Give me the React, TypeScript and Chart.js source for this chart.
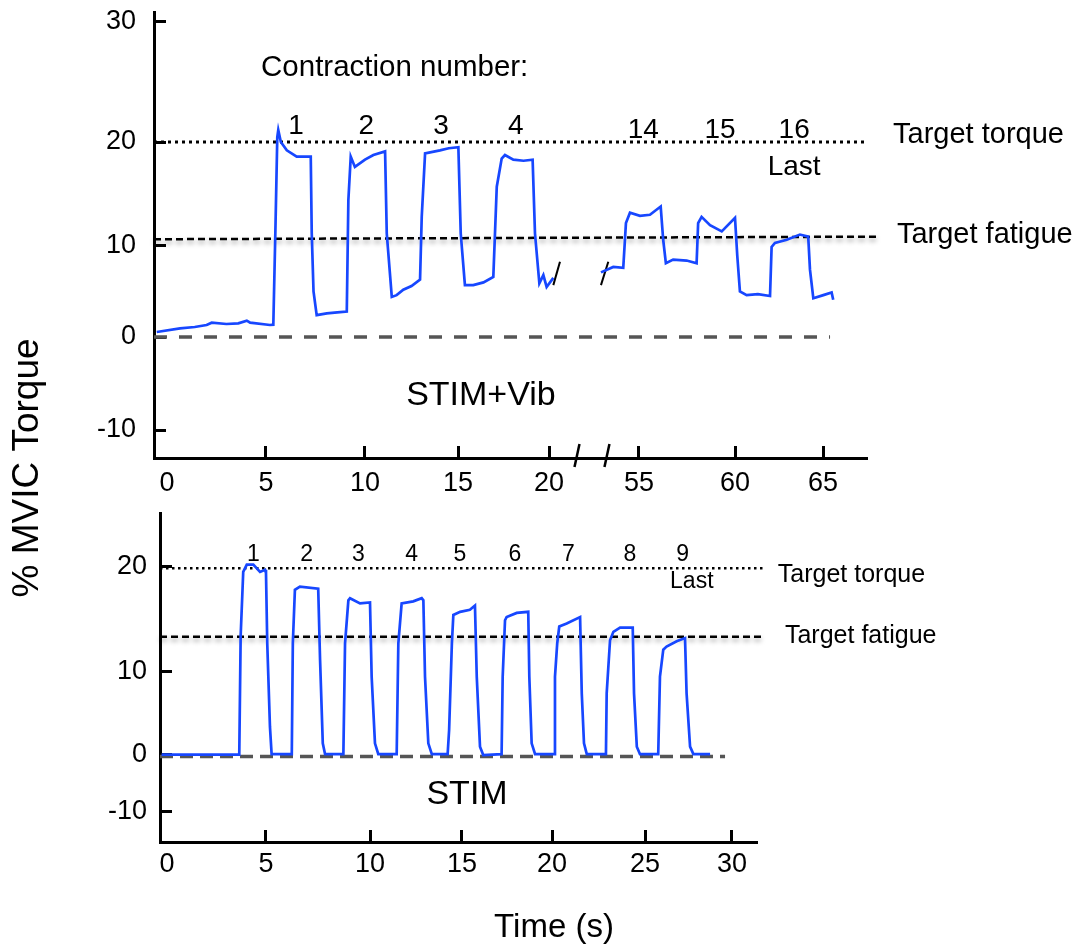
import { useEffect, useRef } from 'react';
import { Chart, registerables, LinearScale } from 'chart.js';

const FONT = "'Liberation Sans', Arial, Helvetica, sans-serif";
const TRACE_BLUE = '#1747ff';

// ---------------- Top panel (STIM+Vib) ----------------
const topTimesA = [-0.52, 0.66, 1.4, 2.0, 2.26, 3.0, 3.6, 4.03, 4.2, 5.2, 5.37, 5.48, 5.57, 5.62, 5.75, 6.05, 6.55, 7.0, 7.26, 7.31, 7.4, 7.56, 8.07, 8.6, 9.08, 9.16, 9.28, 9.49, 10.0, 10.45, 11.08, 11.17, 11.44, 11.7, 12.06, 12.5, 12.96, 13.05, 13.23, 14.03, 14.5, 15.02, 15.15, 15.38, 15.84, 16.4, 16.94, 17.13, 17.4, 17.58, 18.04, 18.6, 19.1, 19.23, 19.47, 19.69, 19.87, 20.24];
const topTorqueA = [0.55, 0.95, 1.1, 1.32, 1.57, 1.43, 1.5, 1.8, 1.57, 1.32, 1.35, 12.0, 20.4, 21.0, 20.0, 19.2, 18.6, 18.6, 18.6, 11.25, 5.0, 2.4, 2.6, 2.7, 2.8, 14.4, 18.6, 17.6, 18.3, 18.75, 19.1, 11.2, 4.4, 4.6, 5.2, 5.6, 6.3, 12.8, 18.9, 19.2, 19.4, 19.5, 11.2, 5.7, 5.7, 6.0, 6.6, 15.7, 18.4, 18.75, 18.3, 18.2, 18.3, 11.2, 5.9, 6.8, 5.5, 6.5];
const topTimesB = [53.02, 53.66, 54.18, 54.32, 54.53, 55.05, 55.57, 56.13, 56.26, 56.4, 56.78, 57.48, 58.0, 58.08, 58.26, 58.7, 59.31, 60.0, 60.13, 60.28, 60.66, 61.3, 61.99, 62.08, 62.27, 62.94, 63.69, 64.16, 64.26, 64.45, 65.02, 65.49, 65.58];
const topTorqueB = [7.1, 7.7, 7.6, 12.2, 13.2, 12.9, 13.0, 13.8, 10.6, 8.1, 8.5, 8.4, 8.1, 12.2, 12.8, 12.0, 11.4, 12.7, 8.9, 5.0, 4.6, 4.7, 4.5, 9.9, 10.3, 10.6, 11.1, 10.9, 7.4, 4.25, 4.6, 4.9, 4.1];
const topBreakSlashTimes = [[20.24, 20.61], [53.02, 53.4]];
const topBreakSlashLevels = [5.7, 8.27];

const topXTicks = [0, 5, 10, 15, 20, 55, 60, 65];
const topYTicks = [-10, 0, 10, 20, 30];
const topXAnchorValues = [-0.66, 0, 5, 10, 15, 20, 21, 52, 55, 60, 65, 67.5];
const topXAnchorFracs = [0, 0.01823, 0.15708, 0.29593, 0.42637, 0.554, 0.57924, 0.59944, 0.68022, 0.81487, 0.93829, 1];
const topYAnchorValues = [-13, -10, 0, 10, 20, 30, 31];
const topYAnchorFracs = [0, 0.06278, 0.2713, 0.47534, 0.70852, 0.97758, 1];

const topTargetTorque = 20;
const topTargetFatigue = [10.65, 10.9];
const topZero = 0;
const topLineStart = -0.66;
const topLineEnds = [67.5, 68.2, 65.4]; // torque, fatigue, zero

const topContractionLabels = ['1', '2', '3', '4', '14', '15', '16'];
const topContractionTimes = [6.52, 10.07, 14.09, 18.18, 55.22, 59.22, 63.36];
const topContractionLevels = [21.28, 21.28, 21.28, 21.28, 21.0, 21.0, 21.0];
const topNoteTexts = ['Contraction number:', 'Last', 'Target torque', 'Target fatigue', 'STIM+Vib'];
const topNoteTimes = [4.75, 63.36, 68.98, 69.2, 16.26];
const topNoteLevels = [26.17, 17.55, 20.58, 11.06, -6.34];

// ---------------- Bottom panel (STIM) ----------------
const bottomTimes = [-0.27, 3.65, 3.72, 3.85, 4.03, 4.36, 4.7, 4.95, 5.0, 5.06, 5.19, 5.27, 6.24, 6.29, 6.39, 6.63, 7.51, 7.6, 7.73, 7.84, 8.72, 8.8, 8.96, 9.04, 9.52, 10.0, 10.09, 10.27, 10.45, 11.45, 11.54, 11.72, 12.35, 12.81, 12.9, 12.99, 13.17, 13.36, 14.22, 14.3, 14.45, 14.53, 14.9, 15.44, 15.72, 15.82, 16.0, 16.18, 17.2, 17.26, 17.39, 17.48, 18.04, 18.68, 18.74, 18.87, 19.06, 20.12, 20.16, 20.28, 20.39, 20.79, 21.51, 21.6, 21.72, 21.87, 22.9, 22.94, 23.12, 23.3, 23.66, 24.34, 24.41, 24.56, 24.73, 25.76, 25.86, 26.05, 26.24, 26.82, 27.3, 27.39, 27.59, 27.78, 28.74];
const bottomTorque = [0.05, 0.05, 13.4, 19.5, 20.2, 20.2, 19.5, 19.7, 19.4, 12.7, 3.4, 0.1, 0.1, 12.7, 17.8, 18.1, 17.9, 11.1, 1.4, 0.1, 0.1, 12.7, 16.8, 17.0, 16.5, 16.6, 9.4, 1.4, 0.1, 0.1, 12.7, 16.5, 16.7, 17.0, 16.8, 9.4, 1.4, 0.1, 0.1, 3.0, 12.7, 15.4, 15.7, 15.9, 16.3, 9.4, 1.0, 0.0, 0.1, 9.4, 14.9, 15.2, 15.6, 15.7, 9.4, 1.4, 0.1, 0.1, 9.4, 12.7, 14.3, 14.6, 15.2, 7.4, 1.4, 0.1, 0.1, 7.4, 13.0, 13.8, 14.2, 14.2, 7.4, 1.0, 0.1, 0.1, 9.4, 12.1, 12.4, 12.9, 13.2, 7.4, 1.0, 0.1, 0.1];

const bottomXTicks = [0, 5, 10, 15, 20, 25, 30];
const bottomYTicks = [-10, 0, 10, 20];
const bottomXAnchorValues = [-0.35, 0, 5, 10, 15, 20, 25, 30, 31.44];
const bottomXAnchorFracs = [0, 0.01173, 0.17755, 0.35176, 0.50586, 0.65662, 0.8124, 0.95812, 1];
const bottomYAnchorValues = [-15.34, -10, 0, 10, 20, 25.1];
const bottomYAnchorFracs = [0, 0.0921, 0.26444, 0.51763, 0.83678, 1];

const bottomTargetTorque = 19.85;
const bottomTargetFatigue = 13.33;
const bottomZero = -0.28;
const bottomLineStart = -0.35;
const bottomLineEnds = [31.9, 31.9, 29.6];

const bottomContractionLabels = ['1', '2', '3', '4', '5', '6', '7', '8', '9'];
const bottomContractionTimes = [4.36, 6.96, 9.44, 12.27, 14.89, 17.94, 20.88, 24.19, 27.17];
const bottomContractionLevel = 21.1;
const bottomNoteTexts = ['Last', 'Target torque', 'Target fatigue', 'STIM'];
const bottomNoteTimes = [27.69, 32.64, 33.05, 15.28];
const bottomNoteLevels = [18.57, 19.2, 13.4, -7.05];

// ---------------- Piecewise-linear scale (hand-drawn, broken axes) ----------------
const ANCHORS: Record<string, { v: number[]; f: number[]; ticks: number[] }> = {
  topX: { v: topXAnchorValues, f: topXAnchorFracs, ticks: topXTicks },
  topY: { v: topYAnchorValues, f: topYAnchorFracs, ticks: topYTicks },
  bottomX: { v: bottomXAnchorValues, f: bottomXAnchorFracs, ticks: bottomXTicks },
  bottomY: { v: bottomYAnchorValues, f: bottomYAnchorFracs, ticks: bottomYTicks },
};

function interp(xs: number[], ys: number[], x: number) {
  const n = xs.length;
  let i = 0;
  if (x >= xs[n - 1]) i = n - 2;
  else if (x > xs[0]) {
    while (i < n - 2 && x > xs[i + 1]) i++;
  }
  const x0 = xs[i];
  const x1 = xs[i + 1];
  if (x1 === x0) return ys[i];
  return ys[i] + ((x - x0) / (x1 - x0)) * (ys[i + 1] - ys[i]);
}

class PiecewiseScale extends LinearScale {
  static id = 'piecewise';
  static defaults = {};
  determineDataLimits() {
    const a = ANCHORS[(this as any).options.anchorKey];
    (this as any).min = a.v[0];
    (this as any).max = a.v[a.v.length - 1];
  }
  buildTicks() {
    const a = ANCHORS[(this as any).options.anchorKey];
    return a.ticks.map((v) => ({ value: v }));
  }
  getPixelForValue(value: any) {
    if (value === null || value === undefined || isNaN(value)) return NaN;
    const a = ANCHORS[(this as any).options.anchorKey];
    return (this as any).getPixelForDecimal(interp(a.v, a.f, value));
  }
  getValueForPixel(pixel: number) {
    const a = ANCHORS[(this as any).options.anchorKey];
    return interp(a.f, a.v, (this as any).getDecimalForPixel(pixel));
  }
}

Chart.register(...registerables, PiecewiseScale as any);
Chart.defaults.font.family = FONT;

function pts(xs: number[], ys: number[]) {
  return xs.map((x, i) => ({ x, y: ys[i] }));
}

function drawText(ctx: CanvasRenderingContext2D, text: string, x: number, y: number, size: number, align: CanvasTextAlign = 'center') {
  ctx.save();
  ctx.font = `${size}px ${FONT}`;
  ctx.fillStyle = '#000';
  ctx.textAlign = align;
  ctx.textBaseline = 'middle';
  ctx.fillText(text, x, y);
  ctx.restore();
}

const shadowPlugin = {
  id: 'lineShadow',
  beforeDatasetDraw(chart: any, args: any) {
    const ds = chart.data.datasets[args.index];
    if (ds.shadow) {
      const ctx = chart.ctx;
      ctx.save();
      ctx.shadowColor = 'rgba(0,0,0,0.4)';
      ctx.shadowBlur = 5;
      ctx.shadowOffsetY = 3;
    }
  },
  afterDatasetDraw(chart: any, args: any) {
    const ds = chart.data.datasets[args.index];
    if (ds.shadow) chart.ctx.restore();
  },
};

function axisScale(key: string, isX: boolean, padding: number, size: number) {
  return {
    type: 'piecewise',
    anchorKey: key,
    position: isX ? 'bottom' : 'left',
    afterFit: (s: any) => {
      if (isX) s.height = 60;
      else s.width = 100;
      s.paddingLeft = 0;
      s.paddingRight = 0;
      s.paddingTop = 0;
      s.paddingBottom = 0;
    },
    border: { display: true, color: '#000', width: 3 },
    grid: {
      display: true,
      drawOnChartArea: false,
      drawTicks: true,
      tickLength: -12,
      tickWidth: 3,
      tickColor: (ctx: any) => (isX && ctx.tick && ctx.tick.value === 0 ? 'rgba(0,0,0,0)' : '#000'),
    },
    ticks: {
      padding,
      color: '#000',
      autoSkip: false,
      maxRotation: 0,
      font: { size, family: FONT },
      callback: (v: any) => String(v),
    },
  };
}

function refLine(x0: number, x1: number, y0: number, y1: number, color: string, width: number, dash: number[], extra: any = {}) {
  return {
    data: [{ x: x0, y: y0 }, { x: x1, y: y1 }],
    borderColor: color,
    borderWidth: width,
    borderDash: dash,
    borderCapStyle: 'butt',
    pointRadius: 0,
    clip: false,
    ...extra,
  };
}

function baseOptions(padding: any, xKey: string, yKey: string, xPad: number, yPad: number) {
  return {
    responsive: false,
    maintainAspectRatio: false,
    animation: false,
    events: [],
    layout: { padding, autoPadding: false },
    plugins: { legend: { display: false }, tooltip: { enabled: false }, title: { display: false } },
    elements: { point: { radius: 0 }, line: { tension: 0 } },
    scales: {
      x: axisScale(xKey, true, xPad, 27),
      y: axisScale(yKey, false, yPad, 27),
    },
  };
}

export default function App() {
  const topRef = useRef<HTMLCanvasElement>(null);
  const bottomRef = useRef<HTMLCanvasElement>(null);

  useEffect(() => {
    const topPlugin = {
      id: 'topNotes',
      afterDraw(chart: any) {
        const ctx = chart.ctx;
        const { x, y } = chart.scales;
        topContractionLabels.forEach((s, i) =>
          drawText(ctx, s, x.getPixelForValue(topContractionTimes[i]), y.getPixelForValue(topContractionLevels[i]), 28)
        );
        const sizes = [29.5, 28, 29, 29, 34];
        const aligns: CanvasTextAlign[] = ['left', 'center', 'left', 'left', 'center'];
        topNoteTexts.forEach((s, i) =>
          drawText(ctx, s, x.getPixelForValue(topNoteTimes[i]), y.getPixelForValue(topNoteLevels[i]), sizes[i], aligns[i])
        );
        // axis break marks on the x axis
        const p20 = x.getPixelForValue(20);
        const p55 = x.getPixelForValue(55);
        const ay = chart.chartArea.bottom;
        ctx.save();
        ctx.strokeStyle = '#000';
        ctx.lineWidth = 2.5;
        [0.311, 0.644].forEach((r) => {
          const cx = p20 + (p55 - p20) * r;
          ctx.beginPath();
          ctx.moveTo(cx + 2.5, ay - 14);
          ctx.lineTo(cx - 2.5, ay + 9);
          ctx.stroke();
        });
        ctx.restore();
        // shared axis titles
        ctx.save();
        ctx.translate(28, 468);
        ctx.rotate(-Math.PI / 2);
        drawText(ctx, '% MVIC Torque', 0, 0, 37);
        ctx.restore();
        drawText(ctx, 'Time (s)', 554, 928, 33);
      },
    };

    const topChart = new Chart(topRef.current as HTMLCanvasElement, {
      type: 'line',
      data: {
        datasets: [
          { data: pts(topTimesA, topTorqueA), borderColor: TRACE_BLUE, borderWidth: 2.7, pointRadius: 0, clip: false },
          { data: pts(topTimesB, topTorqueB), borderColor: TRACE_BLUE, borderWidth: 2.7, pointRadius: 0, clip: false },
          refLine(topBreakSlashTimes[0][0], topBreakSlashTimes[0][1], topBreakSlashLevels[0], topBreakSlashLevels[1], '#000', 2, []),
          refLine(topBreakSlashTimes[1][0], topBreakSlashTimes[1][1], topBreakSlashLevels[0], topBreakSlashLevels[1], '#000', 2, []),
          refLine(topLineStart, topLineEnds[0], topTargetTorque, topTargetTorque, '#000', 3, [3, 4]),
          refLine(topLineStart, topLineEnds[1], topTargetFatigue[0], topTargetFatigue[1], '#000', 2.5, [7, 4], { shadow: true }),
          refLine(topLineStart, topLineEnds[2], topZero, topZero, '#555', 3.5, [13, 12]),
        ] as any,
      },
      options: baseOptions({ left: 54, right: 217, top: 12, bottom: 429 }, 'topX', 'topY', 21, 30) as any,
      plugins: [shadowPlugin, topPlugin] as any,
    });

    const bottomPlugin = {
      id: 'bottomNotes',
      afterDraw(chart: any) {
        const ctx = chart.ctx;
        const { x, y } = chart.scales;
        bottomContractionLabels.forEach((s, i) =>
          drawText(ctx, s, x.getPixelForValue(bottomContractionTimes[i]), y.getPixelForValue(bottomContractionLevel), 23)
        );
        const sizes = [23, 25, 25, 34];
        const aligns: CanvasTextAlign[] = ['center', 'left', 'left', 'center'];
        bottomNoteTexts.forEach((s, i) =>
          drawText(ctx, s, x.getPixelForValue(bottomNoteTimes[i]), y.getPixelForValue(bottomNoteLevels[i]), sizes[i], aligns[i])
        );
      },
    };

    const bottomChart = new Chart(bottomRef.current as HTMLCanvasElement, {
      type: 'line',
      data: {
        datasets: [
          { data: pts(bottomTimes, bottomTorque), borderColor: TRACE_BLUE, borderWidth: 2.7, pointRadius: 0, clip: false },
          refLine(bottomLineStart, bottomLineEnds[0], bottomTargetTorque, bottomTargetTorque, '#000', 2.5, [2.5, 3.5]),
          refLine(bottomLineStart, bottomLineEnds[1], bottomTargetFatigue, bottomTargetFatigue, '#000', 2.5, [7, 4], { shadow: true }),
          refLine(bottomLineStart, bottomLineEnds[2], bottomZero, bottomZero, '#555', 3.5, [13, 7]),
        ] as any,
      },
      options: baseOptions({ left: 60, right: 327, top: 513, bottom: 45 }, 'bottomX', 'bottomY', 18, 25) as any,
      plugins: [shadowPlugin, bottomPlugin] as any,
    });

    return () => {
      topChart.destroy();
      bottomChart.destroy();
    };
  }, []);

  const canvasStyle: any = { position: 'absolute', left: 0, top: 0, width: 1084, height: 947 };
  return (
    <div style={{ position: 'absolute', left: 0, top: 0, width: 1084, height: 947, background: '#fff', overflow: 'hidden' }}>
      <canvas ref={topRef} width={1084} height={947} style={canvasStyle} />
      <canvas ref={bottomRef} width={1084} height={947} style={canvasStyle} />
    </div>
  );
}
